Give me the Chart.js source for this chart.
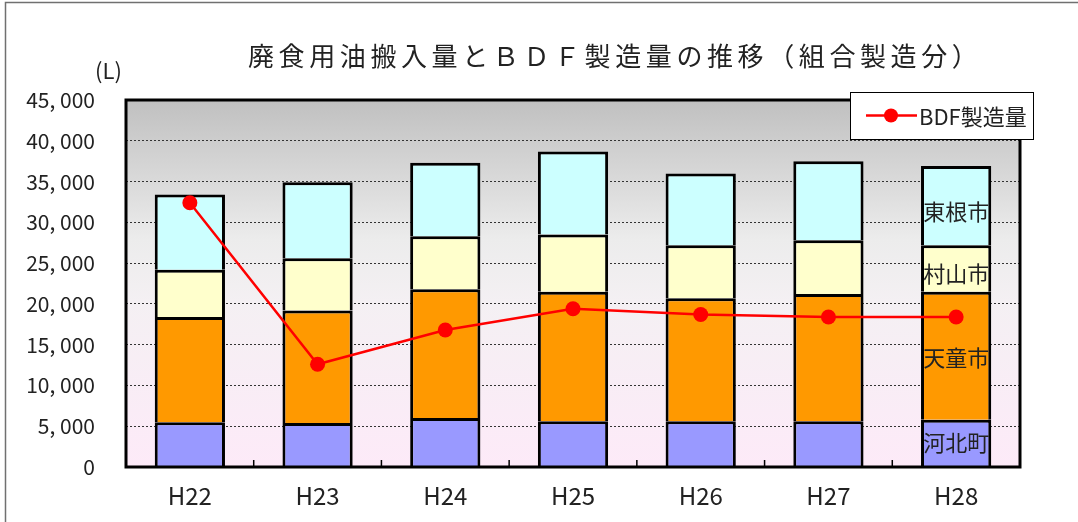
<!DOCTYPE html>
<html>
<head>
<meta charset="utf-8">
<script src="https://cdn.jsdelivr.net/npm/chart.js@4.4.1/dist/chart.umd.min.js"></script>
<style>
  html, body { margin: 0; padding: 0; background: #fff; }
  #wrap { width: 1078px; height: 522px; position: relative; }
</style>
</head>
<body>
<div id="wrap"><canvas id="c" width="1078" height="522"></canvas></div>
<script>
// ---- data ----
const titleText = '廃食用油搬入量とＢＤＦ製造量の推移（組合製造分）';
const unitLabel = '(L)';
const categories = ['H22', 'H23', 'H24', 'H25', 'H26', 'H27', 'H28'];
const kahoku    = [5500, 5400, 6000, 5600, 5600, 5600, 5800];    // 河北町
const tendo     = [12900, 13800, 15800, 15900, 15100, 15600, 15700]; // 天童市
const murayama  = [5800, 6400, 6500, 7000, 6500, 6600, 5700];    // 村山市
const higashine = [9200, 9300, 9000, 10200, 8800, 9700, 9700];   // 東根市
const bdf       = [32400, 12600, 16800, 19400, 18700, 18400, 18400]; // BDF製造量
const seriesNames = ['河北町', '天童市', '村山市', '東根市'];
const lineName = 'BDF製造量';
const yMin = 0, yMax = 45000, yStep = 5000;

const FONT = '"Noto Sans CJK JP", "Noto Sans", sans-serif';

const decor = {
  id: 'decor',
  beforeDraw(chart) {
    const { ctx, chartArea: a } = chart;
    ctx.save();
    ctx.fillStyle = '#ffffff';
    ctx.fillRect(0, 0, chart.width, chart.height);
    // outer frame
    ctx.strokeStyle = '#707070';
    ctx.lineWidth = 1.5;
    ctx.strokeRect(5.5, 2.5, chart.width + 10, chart.height + 10);
    // plot background gradient
    const g = ctx.createLinearGradient(0, a.top, 0, a.bottom);
    g.addColorStop(0, '#c0c0c0');
    g.addColorStop(0.38, '#ececec');
    g.addColorStop(0.55, '#f4f0f3');
    g.addColorStop(1, '#fdeaf8');
    ctx.fillStyle = g;
    ctx.fillRect(a.left, a.top, a.right - a.left, a.bottom - a.top);
    ctx.restore();
  },
  afterDatasetsDraw(chart) {
    const { ctx } = chart;
    // series labels inside last bar
    const last = categories.length - 1;
    ctx.save();
    ctx.font = '22px ' + FONT;
    ctx.fillStyle = '#222';
    ctx.textAlign = 'center';
    ctx.textBaseline = 'middle';
    const offs = [0, 2, 5, 6];
    for (let d = 0; d < 4; d++) {
      const el = chart.getDatasetMeta(d).data[last];
      const yc = (el.y + el.base) / 2 + offs[d];
      ctx.fillText(seriesNames[d], el.x, yc);
    }
    ctx.restore();
  },
  afterDraw(chart) {
    const { ctx, chartArea: a, scales } = chart;
    ctx.save();
    // plot border
    ctx.strokeStyle = '#000';
    ctx.lineWidth = 3;
    ctx.strokeRect(a.left, a.top, a.right - a.left, a.bottom - a.top);
    // category tick marks (inward)
    ctx.lineWidth = 1.5;
    ctx.beginPath();
    for (let i = 0; i < categories.length - 1; i++) {
      const x = (scales.x.getPixelForValue(i) + scales.x.getPixelForValue(i + 1)) / 2;
      ctx.moveTo(x, a.bottom);
      ctx.lineTo(x, a.bottom - 7);
    }
    ctx.stroke();
    // title
    ctx.fillStyle = '#222';
    ctx.font = '26px ' + FONT;
    ctx.textAlign = 'left';
    ctx.textBaseline = 'middle';
    try { ctx.letterSpacing = '4.6px'; } catch (e) {}
    ctx.fillText(titleText, 248, 56);
    try { ctx.letterSpacing = '0px'; } catch (e) {}
    // unit
    ctx.font = '22px ' + FONT;
    ctx.fillText(unitLabel, 95, 71);
    // legend
    const lx = 850, ly = 92, lw = 183, lh = 47;
    ctx.fillStyle = '#fff';
    ctx.fillRect(lx, ly, lw, lh);
    ctx.strokeStyle = '#000';
    ctx.lineWidth = 1;
    ctx.strokeRect(lx + 0.5, ly + 0.5, lw, lh);
    const ds = chart.data.datasets[4];
    const cy = ly + lh / 2;
    ctx.strokeStyle = ds.borderColor;
    ctx.lineWidth = 2.5;
    ctx.beginPath();
    ctx.moveTo(866, cy);
    ctx.lineTo(917, cy);
    ctx.stroke();
    ctx.fillStyle = ds.pointBackgroundColor;
    ctx.beginPath();
    ctx.arc(891, cy, 7, 0, Math.PI * 2);
    ctx.fill();
    ctx.fillStyle = '#222';
    ctx.font = '22px ' + FONT;
    ctx.fillText(ds.label, 919, cy + 1);
    ctx.restore();
  }
};

const barCommon = { type: 'bar', stack: 'bars', borderColor: '#000',
  borderWidth: { top: 3, left: 3, right: 3, bottom: 0 }, borderSkipped: false, inflateAmount: 0,
  barPercentage: 0.55, categoryPercentage: 1.0, order: 2 };

new Chart(document.getElementById('c'), {
  data: {
    labels: categories,
    datasets: [
      Object.assign({ label: seriesNames[0], data: kahoku, backgroundColor: '#9999ff' }, barCommon),
      Object.assign({ label: seriesNames[1], data: tendo, backgroundColor: '#ff9900' }, barCommon),
      Object.assign({ label: seriesNames[2], data: murayama, backgroundColor: '#ffffcc' }, barCommon),
      Object.assign({ label: seriesNames[3], data: higashine, backgroundColor: '#ccffff' }, barCommon),
      { type: 'line', label: lineName, data: bdf, stack: 'line', order: 0,
        borderColor: '#ff0000', backgroundColor: '#ff0000', borderWidth: 2.5,
        pointRadius: 7.5, pointBorderWidth: 0, pointBackgroundColor: '#ff0000', tension: 0, fill: false }
    ]
  },
  options: {
    responsive: false,
    animation: false,
    devicePixelRatio: 1,
    layout: { padding: { left: 0, right: 58, top: 100, bottom: 0 } },
    plugins: { legend: { display: false }, title: { display: false }, tooltip: { enabled: false } },
    scales: {
      x: {
        stacked: true,
        grid: { display: false, drawTicks: false },
        border: { display: false },
        ticks: { color: '#222', font: { family: FONT, size: 24 }, padding: 14 },
        afterFit(s) { s.height = 55; }
      },
      y: {
        stacked: true,
        min: yMin, max: yMax,
        grid: { color: '#333', lineWidth: 1, drawTicks: false },
        border: { display: false, dash: [2, 2] },
        ticks: {
          stepSize: yStep, color: '#222', padding: 31,
          font: { family: FONT, size: 21 },
          callback: v => v.toLocaleString('en-US').replace(/,/g, ', ')
        },
        afterFit(s) { s.width = 126; }
      }
    }
  },
  plugins: [decor]
});
</script>
</body>
</html>
